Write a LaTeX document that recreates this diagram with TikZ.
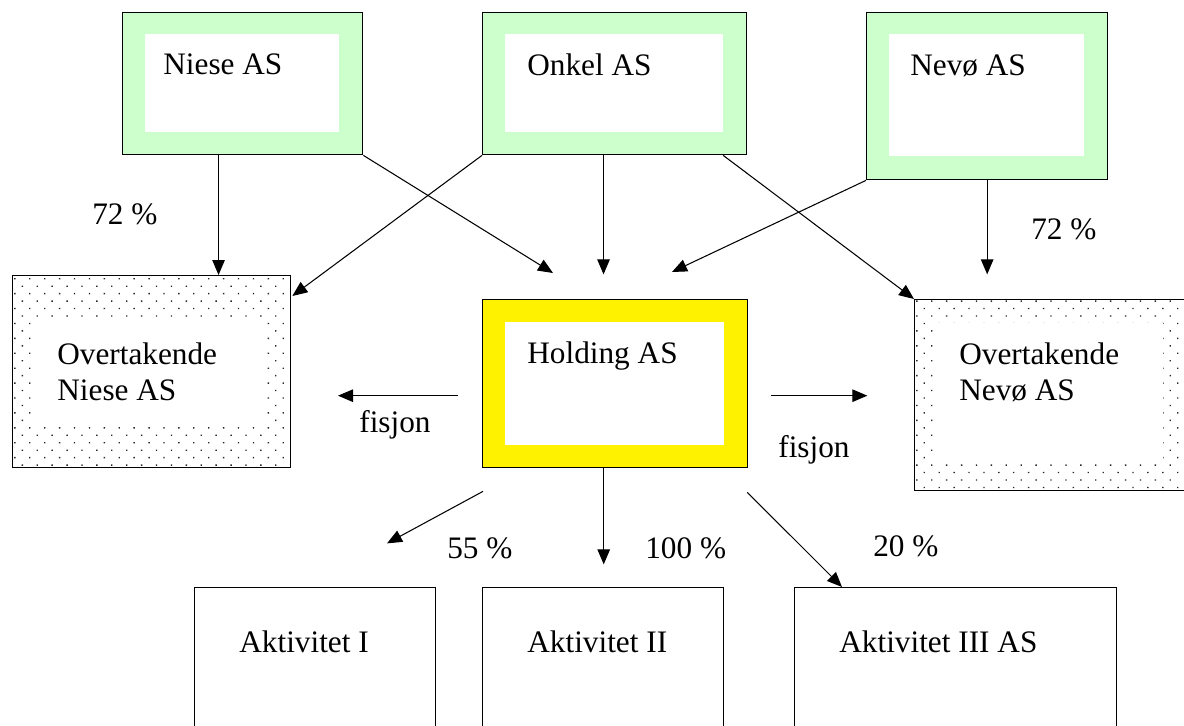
\documentclass[tikz,border=0pt]{standalone}
\usepackage{fontspec}
\setmainfont{Liberation Serif}
\usepackage{xcolor}
\usepackage{tikz}
\usetikzlibrary{positioning,arrows.meta,calc,patterns.meta}
\definecolor{eiergreen}{HTML}{CCFFCC}

\begin{document}
\begin{tikzpicture}[x=0.02cm, y=-0.02cm,
    font=\fontsize{17.8}{20.4}\selectfont,
    frame/.style={rectangle, draw, line width=0.8pt, anchor=north west, inner sep=0pt},
    eier/.style={frame, fill=eiergreen},
    hold/.style={frame, fill=yellow},
    ny/.style={frame, pattern={Dots[distance=6pt, angle=45, radius=0.55pt]}, pattern color=black!85},
    hull/.style={rectangle, fill=white, anchor=north west, inner sep=0pt},
    txt/.style={anchor=base west, inner sep=0pt, align=left},
    arrow/.style={-{Triangle[length=3mm, width=2.5mm]}, line width=0.6pt}
]
\useasboundingbox (0,0) rectangle (1184,726);
% owners
\node[eier, minimum width=4.8cm, minimum height=2.84cm] (niese) at (122,12) {};
\node[hull, minimum width=3.88cm, minimum height=1.96cm] (niese-in) at ($(niese.north west)+(23,22)$) {};
\node[eier, minimum width=5.28cm, minimum height=2.84cm] (onkel) at (482,12) {};
\node[hull, minimum width=4.36cm, minimum height=1.96cm] (onkel-in) at ($(onkel.north west)+(23,22)$) {};
\node[eier, minimum width=4.82cm, minimum height=3.34cm] (nevo) at (866,12) {};
\node[hull, minimum width=3.9cm, minimum height=2.44cm] (nevo-in) at ($(nevo.north west)+(23,22)$) {};
\node[txt] (niese-t) at (163,75) {Niese AS};
\node[txt] (onkel-t) at (527,76) {Onkel AS};
\node[txt] (nevo-t) at (910,76) {Nevø AS};
% holding and the two new companies
\node[hold, minimum width=5.3cm, minimum height=3.36cm] (holding) at (482,299) {};
\node[hull, minimum width=4.38cm, minimum height=2.46cm] (holding-in) at ($(holding.north west)+(23,23)$) {};
\node[txt] (holding-t) at (527,363) {Holding AS};
\node[ny, minimum width=5.56cm, minimum height=3.84cm] (ovniese) at (12,275) {};
\node[hull, minimum width=4.68cm, minimum height=2.04cm] (ovniese-in) at ($(ovniese.north west)+(21,45)$) {};
\node[txt] (ovniese-t) at (57,400) {Overtakende\\Niese AS};
\node[ny, minimum width=5.6cm, minimum height=3.82cm] (ovnevo) at (914,299) {};
\node[hull, minimum width=4.5cm, minimum height=2.78cm] (ovnevo-in) at ($(ovnevo.north west)+(24,24)$) {};
\node[txt] (ovnevo-t) at (959,400) {Overtakende\\Nevø AS};
% activities
\node[frame, minimum width=4.82cm, minimum height=3.2cm] (akt1) at (194,587) {};
\node[frame, minimum width=4.82cm, minimum height=3.2cm] (akt2) at (482,587) {};
\node[frame, minimum width=6.44cm, minimum height=3.2cm] (akt3) at (794,587) {};
\node[txt] (akt1-t) at (239,652) {Aktivitet I};
\node[txt] (akt2-t) at (527,652) {Aktivitet II};
\node[txt] (akt3-t) at (839,652) {Aktivitet III AS};
% labels
\node[txt] (p72a) at (92,225) {72 \%};
\node[txt] (p72b) at (1031,240) {72 \%};
\node[txt] (fisA) at (359,433) {fisjon};
\node[txt] (fisB) at (778,458) {fisjon};
\node[txt] (p55) at (447,558) {55 \%};
\node[txt] (p100) at (645,558) {100 \%};
\node[txt] (p20) at (873,556) {20 \%};
% free ends
\coordinate (n1) at ($(niese.south west)!0.4!(niese.south east)$);
\coordinate (o1) at ($(onkel.south west)!0.458!(onkel.south east)$);
\coordinate (o2) at ($(onkel.south west)!0.909!(onkel.south east)$);
\coordinate (h1) at ($(holding.south west)!0.457!(holding.south east)$);
\coordinate (tipA) at (553,273);
\coordinate (tipD) at (672,272);
% arrows
\draw[arrow] (n1) -- (n1 |- ovniese.north);
\draw[arrow] (niese.south east) -- (tipA);
\draw[arrow] (onkel.south west) -- ($(ovniese.north east)+(1,21)$);
\draw[arrow] (o1) -- ++(0,119);
\draw[arrow] (o2) -- (ovnevo.north west);
\draw[arrow] (nevo.south west) -- (tipD);
\draw[arrow] (nevo.south) -- ++(0,94);
\draw[arrow] ($(holding.west)+(-24,12)$) -- ++(-120,0);
\draw[arrow] ($(holding.east)+(23,12)$) -- ++(96,0);
\draw[arrow] ($(holding.south west)+(1,23)$) -- ++(-96,52);
\draw[arrow] (h1) -- ++(0,96);
\draw[arrow] ($(holding.south east)+(-1,24)$) -- (akt3.north west -| 842,0);
\end{tikzpicture}
\end{document}
